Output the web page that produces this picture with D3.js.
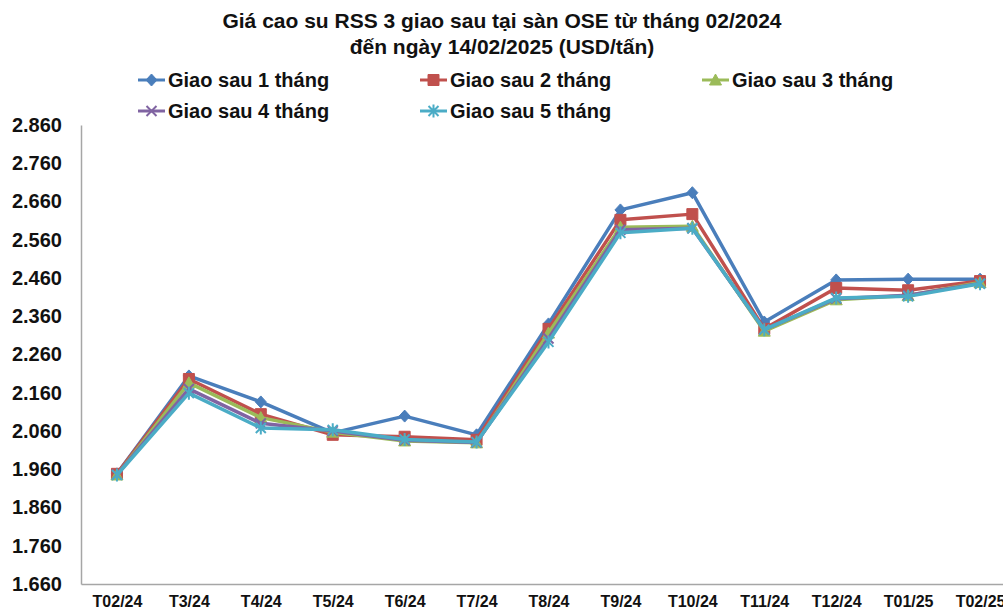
<!DOCTYPE html>
<html>
<head>
<meta charset="utf-8">
<script src="https://cdn.jsdelivr.net/npm/d3@7"></script>
<style>
    body { margin: 0; background: #fff; }
    svg { display: block; font-family: "Liberation Sans", Arial, sans-serif; }
</style>
</head>
<body>
<div id="chart"></div>
<script>
// Categories and series values
const months = ["T02/24", "T3/24", "T4/24", "T5/24", "T6/24", "T7/24", "T8/24", "T9/24", "T10/24", "T11/24", "T12/24", "T01/25", "T02/25"];
const yTicks = [1660, 1760, 1860, 1960, 2060, 2160, 2260, 2360, 2460, 2560, 2660, 2760, 2860];

const seriesNames = ["Giao sau 1 tháng", "Giao sau 2 tháng", "Giao sau 3 tháng", "Giao sau 4 tháng", "Giao sau 5 tháng"];
const seriesColors = ["#4a7ebb", "#c0504d", "#9bbb59", "#8064a2", "#4bacc6"];

const month1 = [1948, 2204, 2136, 2055, 2099, 2050, 2340, 2638, 2683, 2345, 2455, 2457, 2457];
const month2 = [1948, 2196, 2104, 2050, 2045, 2037, 2327, 2612, 2627, 2327, 2434, 2428, 2452];
const month3 = [1945, 2186, 2095, 2057, 2034, 2029, 2316, 2593, 2595, 2321, 2403, 2414, 2448];
const month4 = [1946, 2170, 2080, 2060, 2036, 2030, 2302, 2586, 2590, 2325, 2406, 2415, 2446];
const month5 = [1945, 2159, 2068, 2063, 2038, 2031, 2293, 2578, 2590, 2325, 2408, 2412, 2445];

const allSeries = [month1, month2, month3, month4, month5];
const markers = ["diamond", "square", "triangle", "cross", "star"];

const width = 1003;
const height = 615;
const plot = { left: 81, right: 1016, top: 125, bottom: 584 };

const svg = d3.select("#chart")
    .append("svg")
    .attr("width", width)
    .attr("height", height);

// Title
const title = svg.append("text")
    .attr("text-anchor", "middle")
    .style("font-size", "21px")
    .style("font-weight", "bold")
    .attr("fill", "#111");
title.append("tspan").attr("x", 502).attr("y", 28).text("Giá cao su RSS 3 giao sau tại sàn OSE từ tháng 02/2024");
title.append("tspan").attr("x", 502).attr("y", 54).text("đến ngày 14/02/2025 (USD/tấn)");

const x = d3.scalePoint()
    .domain(months)
    .range([plot.left, plot.right])
    .padding(0.5);

const y = d3.scaleLinear()
    .domain([1660, 2860])
    .range([plot.bottom, plot.top]);

const vn = d3.formatLocale({ decimal: ",", thousands: ".", grouping: [3], currency: ["", ""] });
const fmt = vn.format(",.0f");

// Y axis
const yAxis = svg.append("g")
    .attr("transform", `translate(${plot.left},0)`)
    .call(d3.axisLeft(y).tickValues(yTicks).tickFormat(fmt).tickSize(0).tickPadding(19));
yAxis.select(".domain").attr("stroke", "#a6a6a6").attr("stroke-width", 1.5);
yAxis.selectAll("text")
    .style("font-size", "20px")
    .style("font-weight", "bold")
    .attr("fill", "#111");

// X axis
const xAxis = svg.append("g")
    .attr("transform", `translate(0,${plot.bottom})`)
    .call(d3.axisBottom(x).tickSize(0).tickPadding(12));
xAxis.select(".domain").attr("stroke", "#a6a6a6").attr("stroke-width", 1.5);
xAxis.selectAll("text")
    .style("font-size", "16px")
    .style("font-weight", "bold")
    .attr("fill", "#111");

function markerPath(type) {
    switch (type) {
        case "diamond": return "M0,-6L5.5,0L0,6L-5.5,0Z";
        case "square": return "M-5.5,-5.5H5.5V5.5H-5.5Z";
        case "triangle": return "M0,-6L6,5H-6Z";
        case "cross": return "M-5,-5L5,5M-5,5L5,-5";
        case "star": return "M-5,-5L5,5M-5,5L5,-5M0,-6.5V6.5";
    }
}

const line = d3.line()
    .x((d, i) => x(months[i]))
    .y(d => y(d));

allSeries.forEach((values, s) => {
    const color = seriesColors[s];
    const g = svg.append("g");
    g.append("path")
        .datum(values)
        .attr("fill", "none")
        .attr("stroke", color)
        .attr("stroke-width", 3.5)
        .attr("stroke-linejoin", "round")
        .attr("d", line);

    const open = markers[s] === "cross" || markers[s] === "star";
    g.selectAll("path.mk")
        .data(values)
        .enter()
        .append("path")
        .attr("class", "mk")
        .attr("transform", (d, i) => `translate(${x(months[i])},${y(d)})`)
        .attr("d", markerPath(markers[s]))
        .attr("fill", open ? "none" : color)
        .attr("stroke", color)
        .attr("stroke-width", open ? 2 : 1);
});

// Legend
const legendPos = [
    { x: 138, y: 80 }, { x: 420, y: 80 }, { x: 702, y: 80 },
    { x: 138, y: 111 }, { x: 420, y: 111 }
];
seriesNames.forEach((name, s) => {
    const p = legendPos[s];
    const color = seriesColors[s];
    const open = markers[s] === "cross" || markers[s] === "star";
    svg.append("line")
        .attr("x1", p.x).attr("x2", p.x + 27)
        .attr("y1", p.y).attr("y2", p.y)
        .attr("stroke", color)
        .attr("stroke-width", 3);
    svg.append("path")
        .attr("transform", `translate(${p.x + 13.5},${p.y})`)
        .attr("d", markerPath(markers[s]))
        .attr("fill", open ? "none" : color)
        .attr("stroke", color)
        .attr("stroke-width", open ? 2 : 1);
    svg.append("text")
        .attr("x", p.x + 30)
        .attr("y", p.y + 7)
        .style("font-size", "20px")
        .style("font-weight", "bold")
        .attr("fill", "#111")
        .text(name);
});
</script>
</body>
</html>
